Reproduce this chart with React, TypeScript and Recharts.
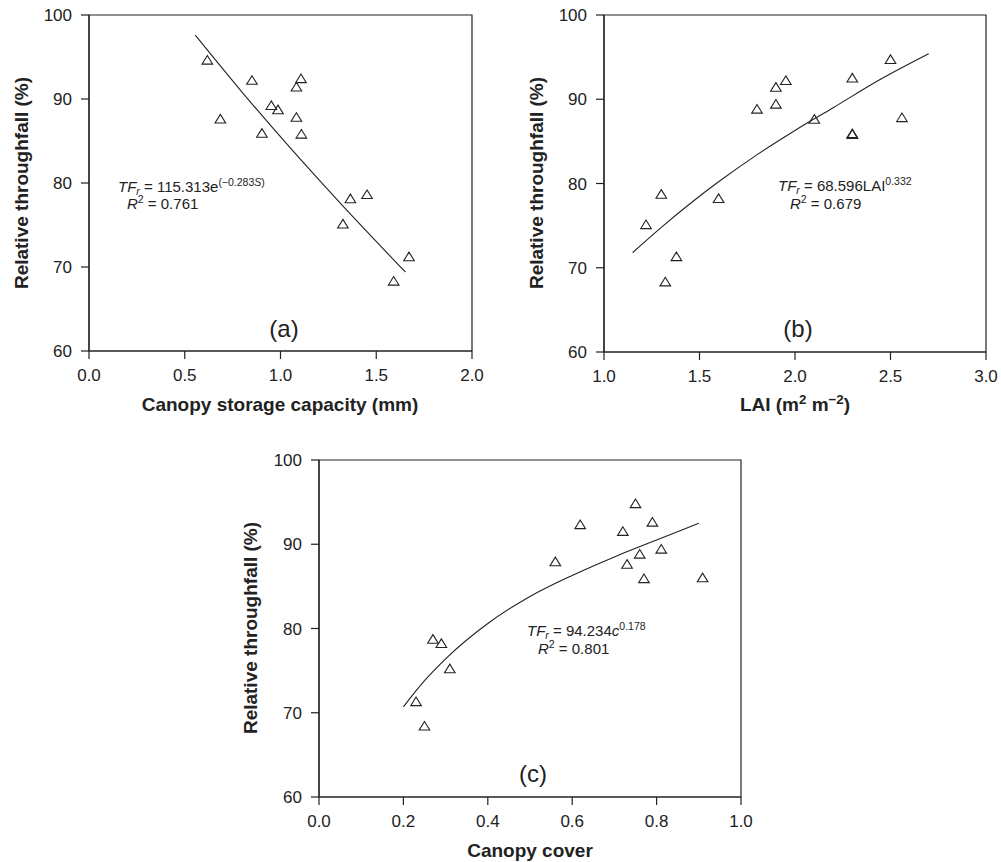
import React from "react"
import { ScatterChart, Scatter, XAxis, YAxis, ReferenceArea } from "recharts"

const storageCapacity = [0.618, 0.851, 1.107, 1.083, 0.952, 0.987, 0.686, 1.083, 0.903, 1.109, 1.365, 1.452, 1.326, 1.671, 1.591]
const throughfallA = [94.6, 92.2, 92.4, 91.4, 89.2, 88.7, 87.6, 87.8, 85.9, 85.8, 78.1, 78.6, 75.1, 71.2, 68.3]

const laiValues = [2.5, 1.952, 1.9, 2.3, 1.9, 1.801, 2.101, 2.56, 2.3, 2.3, 1.6, 1.3, 1.22, 1.379, 1.321]
const throughfallB = [94.7, 92.2, 91.4, 92.5, 89.4, 88.8, 87.6, 87.8, 85.9, 85.8, 78.2, 78.7, 75.1, 71.3, 68.3]

const canopyCover = [0.75, 0.619, 0.79, 0.72, 0.811, 0.76, 0.56, 0.73, 0.77, 0.909, 0.27, 0.29, 0.31, 0.23, 0.25]
const throughfallC = [94.8, 92.3, 92.6, 91.5, 89.4, 88.8, 87.9, 87.6, 85.9, 86.0, 78.7, 78.2, 75.2, 71.3, 68.4]

// fitted curves
const fitAx = [0.555, 0.8, 1.05, 1.3, 1.652]
const fitAy = [97.6, 90.8, 84.2, 77.9, 69.4]
const fitBx = [1.15, 1.3, 1.45, 1.6, 1.8, 2.0, 2.2, 2.45, 2.7]
const fitBy = [71.8, 74.8, 77.6, 80.2, 83.4, 86.3, 89.0, 92.4, 95.4]
const fitCx = [0.2, 0.25, 0.3, 0.4, 0.5, 0.6, 0.7, 0.8, 0.9]
const fitCy = [70.7, 73.8, 76.4, 80.6, 83.8, 86.3, 88.5, 90.5, 92.5]

const yTicks = [60, 70, 80, 90, 100]
const xTicksA = [0, 0.5, 1, 1.5, 2]
const xTicksB = [1, 1.5, 2, 2.5, 3]
const xTicksC = [0, 0.2, 0.4, 0.6, 0.8, 1]

const FONT = '"Liberation Sans", Arial, Helvetica, sans-serif'
const INK = "#222"

const zip = (xs: number[], ys: number[]) => xs.map((x, i) => ({ x, y: ys[i] }))

function Triangle(props: any) {
	const { cx, cy } = props
	if (cx == null || cy == null) return <g />
	const pts = `${cx},${cy - 4.8} ${cx - 5.3},${cy + 3.8} ${cx + 5.3},${cy + 3.8}`
	return <polygon points={pts} fill="none" stroke={INK} strokeWidth={1.1} />
}

type PanelProps = {
	left: number
	top: number
	width: number
	height: number
	margin: { top: number; right: number; left: number; bottom: number }
	yWidth: number
	xDomain: [number, number]
	xTicks: number[]
	points: { x: number; y: number }[]
	fit: { x: number; y: number }[]
}

function Panel({ left, top, width, height, margin, yWidth, xDomain, xTicks, points, fit }: PanelProps) {
	const tick = { fontSize: 17, fill: INK, fontFamily: FONT }
	return (
		<div style={{ position: "absolute", left, top }}>
			<ScatterChart width={width} height={height} margin={margin} style={{ fontFamily: FONT }}>
				<XAxis
					type="number"
					dataKey="x"
					domain={xDomain}
					ticks={xTicks}
					interval={0}
					height={49}
					tickSize={8}
					tickMargin={10}
					tick={tick}
					tickFormatter={(v: number) => v.toFixed(1)}
					axisLine={{ stroke: INK, strokeWidth: 1.2 }}
					tickLine={{ stroke: INK, strokeWidth: 1.2 }}
				/>
				<YAxis
					type="number"
					dataKey="y"
					domain={[60, 100]}
					ticks={yTicks}
					interval={0}
					width={yWidth}
					tickSize={8}
					tickMargin={9}
					tick={tick}
					axisLine={{ stroke: INK, strokeWidth: 1.2 }}
					tickLine={{ stroke: INK, strokeWidth: 1.2 }}
				/>
				<ReferenceArea x1={xDomain[0]} x2={xDomain[1]} y1={60} y2={100} fill="none" fillOpacity={0} stroke={INK} strokeWidth={1.2} />
				<Scatter data={fit} line={{ stroke: INK, strokeWidth: 1.1 }} lineJointType="monotoneX" shape={() => <g />} isAnimationActive={false} />
				<Scatter data={points} shape={Triangle} isAnimationActive={false} />
			</ScatterChart>
		</div>
	)
}

function Txt({ x, y, size, bold, children, anchor = "left", rotate = false }: any) {
	const transform = rotate
		? "translate(-50%, -50%) rotate(-90deg)"
		: anchor === "center" ? "translate(-50%, -50%)" : "translate(0, -50%)"
	return (
		<div
			style={{
				position: "absolute",
				left: x,
				top: y,
				transform,
				fontSize: size,
				fontWeight: bold ? "bold" : "normal",
				color: INK,
				whiteSpace: "nowrap",
				lineHeight: 1,
				fontFamily: FONT,
			}}
		>
			{children}
		</div>
	)
}

const sub = { fontSize: "0.7em", verticalAlign: "-0.3em", lineHeight: 0 } as const
const sup = { fontSize: "0.7em", verticalAlign: "0.5em", lineHeight: 0 } as const

export default function App() {
	return (
		<div style={{ position: "absolute", left: 0, top: 0, width: 1001, height: 862, background: "#fff", fontFamily: FONT, overflow: "hidden" }}>
			<Panel left={0} top={0} width={490} height={400} margin={{ top: 15, right: 18, left: 0, bottom: 0 }} yWidth={89}
				xDomain={[0, 2]} xTicks={xTicksA} points={zip(storageCapacity, throughfallA)} fit={zip(fitAx, fitAy)} />
			<Panel left={520} top={0} width={481} height={401} margin={{ top: 15, right: 15, left: 0, bottom: 0 }} yWidth={84}
				xDomain={[1, 3]} xTicks={xTicksB} points={zip(laiValues, throughfallB)} fit={zip(fitBx, fitBy)} />
			<Panel left={230} top={440} width={541} height={406} margin={{ top: 20, right: 30, left: 0, bottom: 0 }} yWidth={89}
				xDomain={[0, 1]} xTicks={xTicksC} points={zip(canopyCover, throughfallC)} fit={zip(fitCx, fitCy)} />

			{/* axis titles */}
			<Txt x={280} y={404} size={19} bold anchor="center">Canopy storage capacity (mm)</Txt>
			<Txt x={795} y={404} size={19} bold anchor="center">
				LAI (m<span style={sup}>2</span> m<span style={sup}>−2</span>)
			</Txt>
			<Txt x={530} y={850} size={19} bold anchor="center">Canopy cover</Txt>
			<Txt x={21} y={183} size={19} bold rotate>Relative throughfall (%)</Txt>
			<Txt x={536} y={183} size={19} bold rotate>Relative throughfall (%)</Txt>
			<Txt x={250} y={628} size={19} bold rotate>Relative throughfall (%)</Txt>

			{/* panel letters */}
			<Txt x={284} y={329} size={24} anchor="center">(a)</Txt>
			<Txt x={798} y={329} size={24} anchor="center">(b)</Txt>
			<Txt x={533} y={774} size={24} anchor="center">(c)</Txt>

			{/* regression equations */}
			<Txt x={118} y={186} size={15}>
				<i>TF</i><span style={sub}><i>r</i></span> = 115.313e<span style={sup}>(−0.283<i>S</i>)</span>
			</Txt>
			<Txt x={127} y={203} size={15}>
				<i>R</i><span style={sup}>2</span> = 0.761
			</Txt>
			<Txt x={778} y={185} size={15}>
				<i>TF</i><span style={sub}><i>r</i></span> = 68.596LAI<span style={sup}>0.332</span>
			</Txt>
			<Txt x={790} y={203} size={15}>
				<i>R</i><span style={sup}>2</span> = 0.679
			</Txt>
			<Txt x={527} y={630} size={15}>
				<i>TF</i><span style={sub}><i>r</i></span> = 94.234<i>c</i><span style={sup}>0.178</span>
			</Txt>
			<Txt x={538} y={648} size={15}>
				<i>R</i><span style={sup}>2</span> = 0.801
			</Txt>
		</div>
	)
}
